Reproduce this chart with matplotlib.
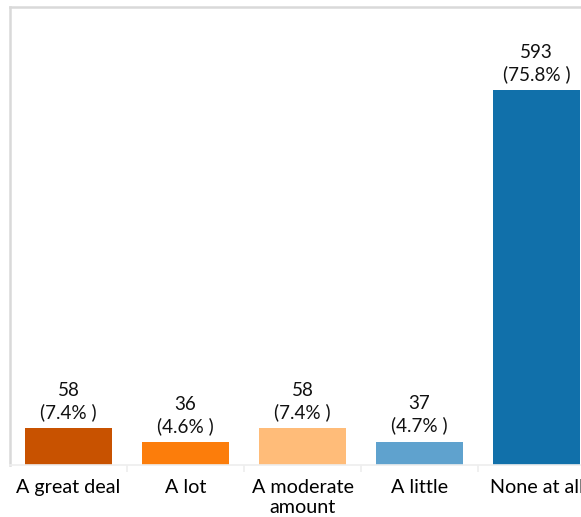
import matplotlib.pyplot as plt

categories = ["A great deal", "A lot", "A moderate\namount", "A little", "None at all"]
counts = [58, 36, 58, 37, 593]
colors = ["#c85200", "#fc7d0b", "#ffbc79", "#5fa2ce", "#1170aa"]

total = sum(counts)
pcts = [c / total * 100 for c in counts]

plt.rcParams['font.family'] = ['Lato', 'DejaVu Sans']

fig = plt.figure(figsize=(5.81, 5.17), dpi=100)
ax = fig.add_axes([10 / 581, 52 / 517, 571 / 581, 458 / 517])

x = range(len(categories))
ax.bar(x, counts, width=0.744, color=colors)

for i, (c, p) in enumerate(zip(counts, pcts)):
    ax.annotate(f"{c}\n({p:.1f}% )", (i, c), xytext=(0, 5), textcoords="offset points",
                ha="center", va="bottom", fontsize=13.6, linespacing=1.3, color="#111111")

ax.set_xlim(-0.5, 4.38)
ax.set_ylim(0, 724)
ax.set_xticks(list(x))
ax.set_xticklabels(categories, fontsize=14.2, color="#000000", linespacing=1.25)
ax.set_xticks([0.5, 1.5, 2.5, 3.5], minor=True)
ax.tick_params(axis="x", which="major", length=0, pad=10)
ax.tick_params(axis="x", which="minor", length=5, color="#eeeeee", width=1.2)
ax.set_yticks([])

ax.spines["right"].set_visible(False)
for side in ["left", "top"]:
    ax.spines[side].set_color("#d9d9d9")
    ax.spines[side].set_linewidth(1.8)
ax.spines["bottom"].set_color("#eeeeee")
ax.spines["bottom"].set_linewidth(1.2)

fig.savefig("out.png", dpi=100)
